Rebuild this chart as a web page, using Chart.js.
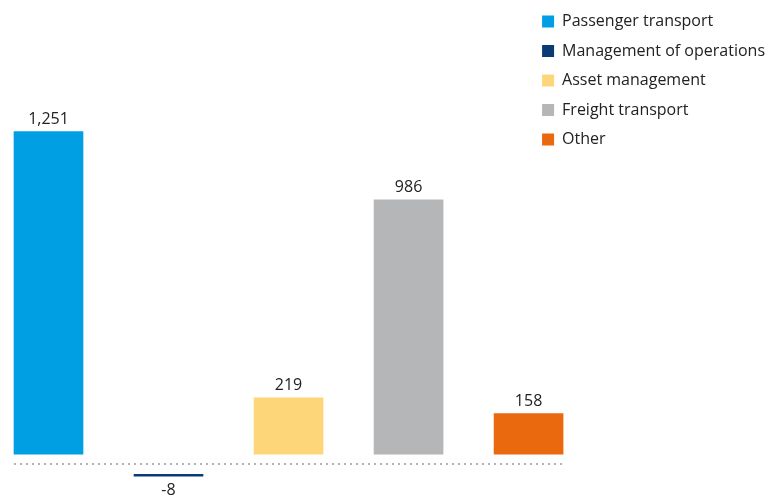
<!DOCTYPE html>
<html>
<head>
<meta charset="utf-8">
<script src="https://cdn.jsdelivr.net/npm/chart.js@4/dist/chart.umd.min.js"></script>
<style>
  html, body { margin: 0; padding: 0; background: #ffffff; }
  #wrap { width: 775px; height: 495px; }
</style>
</head>
<body>
<div id="wrap"><canvas id="chart" width="775" height="495"></canvas></div>
<script>
// Segment results (EUR million)
const segments = ['Passenger transport', 'Management of operations', 'Asset management', 'Freight transport', 'Other'];
const results = [1251, -8, 219, 986, 158];
const segmentColors = ['#009fe3', '#0a3b74', '#fdd67a', '#b5b6b8', '#ea690f'];

// Value axis bounds
const yMin = -100;
const yMax = 1800;

const FONT = "'Open Sans', 'Noto Sans', sans-serif";
const TEXT_COLOR = '#222222';
const BASE_GAP = 10; // space between the zero rule and the bars

const fmt = v => v.toLocaleString('en-US');

// Moves bars away from the zero rule and draws the rule and value labels
const baselinePlugin = {
  id: 'baselinePlugin',
  afterDatasetsUpdate(chart) {
    const meta = chart.getDatasetMeta(0);
    const data = chart.data.datasets[0].data;
    meta.data.forEach((bar, i) => {
      const shift = data[i] < 0 ? BASE_GAP : -BASE_GAP;
      bar.y += shift;
      bar.base += shift;
    });
  },
  beforeDatasetsDraw(chart) {
    const meta = chart.getDatasetMeta(0);
    const first = meta.data[0];
    const last = meta.data[meta.data.length - 1];
    const y0 = Math.round(chart.scales.y.getPixelForValue(0));
    const ctx = chart.ctx;
    ctx.save();
    ctx.strokeStyle = '#b3b3b3';
    ctx.lineWidth = 2;
    ctx.setLineDash([2, 4]);
    ctx.beginPath();
    ctx.moveTo(first.x - first.width / 2, y0);
    ctx.lineTo(last.x + last.width / 2, y0);
    ctx.stroke();
    ctx.restore();
  },
  afterDatasetsDraw(chart) {
    const meta = chart.getDatasetMeta(0);
    const data = chart.data.datasets[0].data;
    const ctx = chart.ctx;
    ctx.save();
    ctx.font = '16px ' + FONT;
    ctx.fillStyle = TEXT_COLOR;
    ctx.textAlign = 'center';
    meta.data.forEach((bar, i) => {
      if (data[i] < 0) {
        ctx.textBaseline = 'top';
        ctx.fillText(fmt(data[i]), bar.x, bar.y + 6);
      } else {
        ctx.textBaseline = 'bottom';
        ctx.fillText(fmt(data[i]), bar.x, bar.y - 4);
      }
    });
    ctx.restore();
  }
};

new Chart(document.getElementById('chart'), {
  type: 'bar',
  data: {
    labels: segments,
    datasets: [{
      data: results,
      backgroundColor: segmentColors,
      borderWidth: 0,
      barThickness: 69,
      clip: false
    }]
  },
  options: {
    responsive: false,
    devicePixelRatio: 1,
    animation: false,
    events: [],
    layout: { padding: { left: 48.5, right: 0, top: 0, bottom: 5 } },
    scales: {
      x: { type: 'category', offset: false, display: false },
      y: { display: false, min: yMin, max: yMax }
    },
    plugins: {
      tooltip: { enabled: false },
      legend: {
        position: 'right',
        align: 'start',
        maxWidth: 248,
        labels: {
          boxWidth: 12,
          boxHeight: 12,
          padding: 13.5,
          color: TEXT_COLOR,
          font: { family: FONT, size: 16 },
          generateLabels(chart) {
            return chart.data.labels.map((label, i) => ({
              text: label,
              fillStyle: segmentColors[i],
              strokeStyle: segmentColors[i],
              lineWidth: 0,
              fontColor: TEXT_COLOR,
              hidden: false,
              index: i
            }));
          }
        }
      }
    }
  },
  plugins: [baselinePlugin]
});
</script>
</body>
</html>
